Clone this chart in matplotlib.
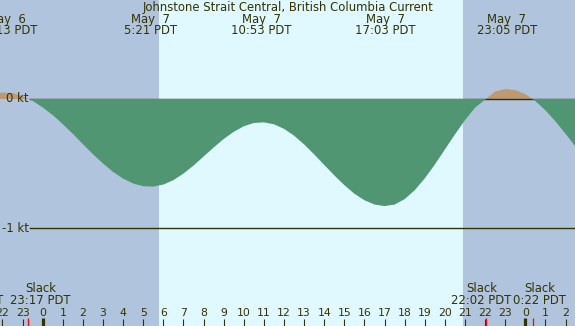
import matplotlib
matplotlib.use("Agg")
import matplotlib.pyplot as plt
from matplotlib.transforms import blended_transform_factory
import numpy as np

# ---- data (hours relative to May 7 00:00 PDT) ----
hours = [-2.5, -2.0, -1.5, -1.0, -0.5, 0.0, 0.5, 1.0, 1.5, 2.0, 2.5, 3.0, 3.5, 4.0,
         4.5, 5.0, 5.5, 6.0, 6.5, 7.0, 7.5, 8.0, 8.5, 9.0, 9.5, 10.0, 10.5, 11.0,
         11.5, 12.0, 12.5, 13.0, 13.5, 14.0, 14.5, 15.0, 15.5, 16.0, 16.5, 17.0,
         17.5, 18.0, 18.5, 19.0, 19.5, 20.0, 20.5, 21.0, 21.5, 22.0, 22.5, 23.0,
         23.5, 24.0, 24.5, 25.0, 25.5, 26.0, 26.5]
current = [0.045, 0.05, 0.047, 0.022, -0.015, -0.065, -0.125, -0.195, -0.27, -0.35,
           -0.428, -0.50, -0.565, -0.617, -0.655, -0.676, -0.679, -0.663, -0.629,
           -0.578, -0.516, -0.446, -0.376, -0.310, -0.254, -0.211, -0.186, -0.181,
           -0.196, -0.231, -0.284, -0.352, -0.429, -0.511, -0.592, -0.668, -0.734,
           -0.785, -0.818, -0.830, -0.818, -0.776, -0.707, -0.615, -0.508, -0.391,
           -0.274, -0.164, -0.067, -0.005, 0.058, 0.078, 0.069, 0.038, -0.016,
           -0.088, -0.174, -0.270, -0.370]

sunrise = 5.78
sunset = 20.90

extreme_times = [-1.78, 5.35, 10.88, 17.05, 23.08]
extreme_dates = ["May  6", "May  7", "May  7", "May  7", "May  7"]
extreme_labels = ["22:13 PDT", "5:21 PDT", "10:53 PDT", "17:03 PDT", "23:05 PDT"]

slack_times = [-3.47, -0.72, 22.03, 24.37]
slack_labels = ["20:32 PDT", "23:17 PDT", "22:02 PDT", "0:22 PDT"]
slack_label_shift = [0.0, 0.6, -0.22, 0.33]   # hours, to avoid overlaps

hour_ticks = list(range(-2, 27))
title = "Johnstone Strait Central, British Columbia Current"

# ---- style ----
W, H = 575, 326
px_per_hr = 20.11
x0_px = 42.7          # pixel of h = 0
y0_px = 99.0          # pixel of 0 kt
px_per_kt = 129.0
night = "#b0c4de"
day = "#e0f8ff"
green = "#509673"
brown = "#bf9a70"
ink = "#333300"
fs = 8.4
fs_hr = 7.8

fig = plt.figure(figsize=(W / 100, H / 100), dpi=100)
ax = fig.add_axes([0, 0, 1, 1])
xmin = -x0_px / px_per_hr
xmax = (W - x0_px) / px_per_hr
ymax = y0_px / px_per_kt
ymin = -(H - y0_px) / px_per_kt
ax.set_xlim(xmin, xmax)
ax.set_ylim(ymin, ymax)
ax.axis("off")
fig.patch.set_facecolor(night)

ax.axvspan(xmin, sunrise, color=night, zorder=0, lw=0)
ax.axvspan(sunrise, sunset, color=day, zorder=0, lw=0)
ax.axvspan(sunset, xmax, color=night, zorder=0, lw=0)

h = np.array(hours)
c = np.array(current)
ax.fill_between(h, 0, c, where=c >= 0, interpolate=True, color=brown, lw=0, zorder=1)
line_start = (30 - x0_px) / px_per_hr
ax.plot([line_start, xmax], [0, 0], color=ink, lw=1.0, zorder=2)
ax.plot([line_start, xmax], [-1, -1], color=ink, lw=1.0, zorder=2)
ax.fill_between(h, 0, c, where=c <= 0, interpolate=True, color=green, lw=0, zorder=3)

ax.text(line_start - 0.05, 0, "0 kt", ha="right", va="center", color=ink, fontsize=fs, zorder=5)
ax.text(line_start - 0.05, -1, "-1 kt", ha="right", va="center", color=ink, fontsize=fs, zorder=5)

bt = blended_transform_factory(ax.transData, fig.transFigure)
def fy(ypx):
    return 1 - ypx / H

ax.text((xmin + xmax) / 2, fy(7.5), title, transform=bt, ha="center", va="center",
        color=ink, fontsize=fs)
for t, d, lab in zip(extreme_times, extreme_dates, extreme_labels):
    ax.text(t, fy(19.5), d, transform=bt, ha="center", va="center", color=ink, fontsize=fs)
    ax.text(t, fy(31), lab, transform=bt, ha="center", va="center", color=ink, fontsize=fs)

for t, lab, s in zip(slack_times, slack_labels, slack_label_shift):
    ax.text(t + s, fy(288), "Slack", transform=bt, ha="center", va="center", color=ink, fontsize=fs)
    ax.text(t + s, fy(300), lab, transform=bt, ha="center", va="center", color=ink, fontsize=fs)

for hr in hour_ticks:
    ax.text(hr, fy(312.5), str(hr % 24), transform=bt, ha="center", va="center",
            color=ink, fontsize=fs_hr)
    if hr % 24 == 0:
        ax.plot([hr, hr], [fy(318), fy(326)], transform=bt, color=ink, lw=2.3,
                solid_capstyle="butt")
    else:
        ax.plot([hr, hr], [fy(319), fy(326)], transform=bt, color=ink, lw=0.8,
                solid_capstyle="butt")
for t in slack_times:
    ax.plot([t, t], [fy(318), fy(326)], transform=bt, color="red", lw=0.9,
            solid_capstyle="butt")

fig.savefig("out.png", dpi=100, facecolor=night)
